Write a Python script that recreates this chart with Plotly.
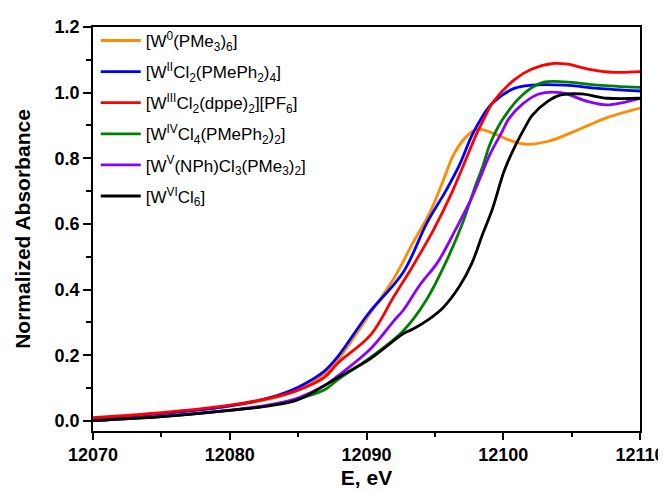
import plotly.graph_objects as go

# ---- data ----
E_orange = [12070, 12075, 12080, 12083, 12085, 12086.9, 12087.9, 12090.3, 12092.0, 12093.4, 12094.6,
            12095.6, 12096.3, 12097.0, 12097.9, 12098.5, 12099.4, 12100.4, 12101.6, 12103.3, 12105.7,
            12107.6, 12110]
A_orange = [0.008, 0.022, 0.045, 0.068, 0.094, 0.142, 0.186, 0.330, 0.434, 0.543, 0.632,
            0.731, 0.805, 0.852, 0.886, 0.887, 0.874, 0.856, 0.843, 0.852, 0.891,
            0.924, 0.953]

E_blue = [12070, 12075, 12080, 12083, 12085, 12086.9, 12087.9, 12090.1, 12092.7, 12094.4, 12095.8,
          12096.8, 12097.7, 12098.5, 12099.2, 12100.8, 12102.1, 12104.5, 12106.9, 12110]
A_blue = [0.008, 0.022, 0.046, 0.072, 0.103, 0.151, 0.196, 0.325, 0.454, 0.602, 0.701,
          0.780, 0.869, 0.929, 0.968, 1.013, 1.023, 1.023, 1.013, 1.005]

E_red = [12070, 12075, 12080, 12083, 12085, 12086.9, 12087.9, 12090.3, 12092.0, 12093.4, 12094.9,
         12096.3, 12097.3, 12098.1, 12098.7, 12099.2, 12100.8, 12102.1, 12103.7, 12104.7, 12106.2,
         12108.1, 12110]
A_red = [0.010, 0.025, 0.048, 0.070, 0.094, 0.132, 0.176, 0.262, 0.379, 0.473, 0.582,
         0.701, 0.800, 0.879, 0.929, 0.968, 1.039, 1.072, 1.089, 1.087, 1.072,
         1.062, 1.064]

E_green = [12070, 12075, 12080, 12083, 12085, 12086.9, 12087.9, 12090.3, 12092.7, 12094.4, 12095.8,
           12097.0, 12098.0, 12098.5, 12099.0, 12099.9, 12101.4, 12102.8, 12104.5, 12106.9, 12110]
A_green = [0.001, 0.013, 0.032, 0.048, 0.067, 0.094, 0.126, 0.194, 0.275, 0.370, 0.483,
           0.600, 0.720, 0.775, 0.840, 0.915, 0.993, 1.030, 1.033, 1.023, 1.016]

E_purple = [12070, 12075, 12080, 12083, 12085, 12086.9, 12087.9, 12090.3, 12092.0, 12092.7, 12093.9,
            12095.2, 12096.5, 12097.7, 12098.5, 12099.0, 12099.9, 12100.4, 12101.4, 12102.6, 12104.2,
            12106.2, 12107.6, 12110]
A_purple = [0.001, 0.014, 0.033, 0.050, 0.070, 0.107, 0.137, 0.220, 0.305, 0.338, 0.414,
            0.483, 0.582, 0.680, 0.760, 0.810, 0.880, 0.920, 0.965, 0.996, 1.000,
            0.973, 0.963, 0.983]

E_black = [12070, 12075, 12080, 12083, 12085, 12087.9, 12090.3, 12092.7, 12093.4, 12094.5, 12095.6,
           12096.8, 12097.7, 12098.5, 12099.2, 12100.1, 12100.9, 12101.6, 12102.1, 12103.3, 12104.2,
           12105.7, 12107.6, 12110]
A_black = [0.001, 0.013, 0.032, 0.047, 0.065, 0.132, 0.190, 0.266, 0.280, 0.308, 0.345,
           0.410, 0.480, 0.570, 0.645, 0.765, 0.840, 0.895, 0.930, 0.975, 0.993,
           0.996, 0.983, 0.983]

names = [
    "[W<sup>0</sup>(PMe<sub>3</sub>)<sub>6</sub>]",
    "[W<sup>II</sup>Cl<sub>2</sub>(PMePh<sub>2</sub>)<sub>4</sub>]",
    "[W<sup>III</sup>Cl<sub>2</sub>(dppe)<sub>2</sub>][PF<sub>6</sub>]",
    "[W<sup>IV</sup>Cl<sub>4</sub>(PMePh<sub>2</sub>)<sub>2</sub>]",
    "[W<sup>V</sup>(NPh)Cl<sub>3</sub>(PMe<sub>3</sub>)<sub>2</sub>]",
    "[W<sup>VI</sup>Cl<sub>6</sub>]",
]
colors = ["#FF8C00", "#0000FF", "#FF0000", "#008000", "#8B00FF", "#000000"]
series = [(E_orange, A_orange), (E_blue, A_blue), (E_red, A_red),
          (E_green, A_green), (E_purple, A_purple), (E_black, A_black)]

x_tickvals = [12070, 12080, 12090, 12100, 12110]
y_tickvals = [0.0, 0.2, 0.4, 0.6, 0.8, 1.0, 1.2]

FONT = "Liberation Sans, Arial, sans-serif"

fig = go.Figure()
for i, ((ex, ay), nm, col) in enumerate(zip(series, names, colors)):
    fig.add_trace(go.Scatter(x=ex, y=ay, mode="lines", name=nm, legendgroup="g%d" % i,
                             line=dict(color=col, width=2.8, shape="spline", smoothing=1.0)))

fig.update_layout(
    width=666, height=492,
    margin=dict(l=85, r=28, t=9, b=69),
    paper_bgcolor="white", plot_bgcolor="white",
    font=dict(family=FONT, color="black"),
    showlegend=True,
    legend=dict(x=0.005, y=1.01, xanchor="left", yanchor="top",
                bgcolor="rgba(0,0,0,0)", borderwidth=0,
                font=dict(family=FONT, size=17, color="black"),
                itemwidth=40, tracegroupgap=6),
)
fig.update_xaxes(
    range=[12070, 12110], tickvals=x_tickvals, ticktext=[str(v) for v in x_tickvals],
    ticks="outside", ticklen=7, tickwidth=1.5, tickcolor="black",
    showline=True, linewidth=1.5, linecolor="black", mirror=True,
    showgrid=False, zeroline=False,
    tickfont=dict(family=FONT, size=18, color="black", weight="bold"),
    minor=dict(dtick=5, tick0=12070, ticks="outside", ticklen=4, tickwidth=1.5, tickcolor="black"),
    title=dict(text="E, eV", font=dict(family=FONT, size=21, color="black", weight="bold"), standoff=6),
)
fig.update_yaxes(
    range=[-0.0306, 1.2], tickvals=y_tickvals, ticktext=["%.1f" % v for v in y_tickvals],
    ticks="outside", ticklen=8, tickwidth=1.5, tickcolor="black",
    showline=True, linewidth=1.5, linecolor="black", mirror=True,
    showgrid=False, zeroline=False,
    tickfont=dict(family=FONT, size=18, color="black", weight="bold"),
    minor=dict(dtick=0.1, tick0=0, ticks="outside", ticklen=5, tickwidth=1.5, tickcolor="black"),
    title=dict(text="Normalized Absorbance", font=dict(family=FONT, size=21, color="black", weight="bold"), standoff=18),
)

fig.write_html("out.html")
